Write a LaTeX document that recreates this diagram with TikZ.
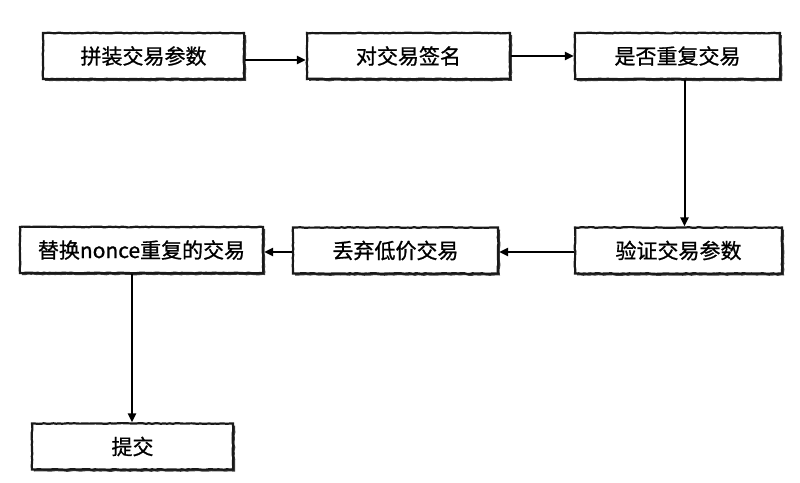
\documentclass[tikz,border=0pt]{standalone}
\usepackage{fontspec}
\setmainfont{Noto Sans CJK SC}
\newfontfamily\boxfont{Noto Sans CJK SC}[FakeBold=0.9]
\usetikzlibrary{arrows.meta,decorations.pathmorphing,shadows}
\tikzset{
  box/.style={draw=black!90, line width=2.2pt, fill=white, minimum height=46pt,
    inner sep=0pt, font=\boxfont\fontsize{21}{24}\selectfont,
    decorate, decoration={random steps, segment length=3pt, amplitude=0.4pt},
    drop shadow={shadow xshift=2pt, shadow yshift=-2pt, fill=black!85, opacity=0.9}},
  conn/.style={line width=2pt, -{Triangle[length=9pt,width=8pt]}}
}
\begin{document}
\begin{tikzpicture}[x=1pt,y=-1pt]
\useasboundingbox (0,0) rectangle (800,482);
\node[box, minimum width=201pt] (A) at (143.5,56) {拼装交易参数};
\node[box, minimum width=203pt] (B) at (408.5,56) {对交易签名};
\node[box, minimum width=205pt] (C) at (677.5,56) {是否重复交易};
\node[box, minimum width=207pt] (D) at (678.5,250.5) {验证交易参数};
\node[box, minimum width=205pt] (E) at (395.5,250.5) {丢弃低价交易};
\node[box, minimum width=243pt] (F) at (141.5,250) {替换nonce重复的交易};
\node[box, minimum width=201pt] (G) at (132.5,446.5) {提交};
\draw[conn] ([yshift=-4pt]A.east) -- ([yshift=-4pt]A.east -| B.west);
\draw[conn] (B.east) -- (B.east -| C.west);
\draw[conn] ([xshift=7pt]C.south) -- ([xshift=7pt]C.south |- D.north);
\draw[conn] ([yshift=-1.5pt]D.west) -- ([yshift=-1.5pt]D.west -| E.east);
\draw[conn] ([yshift=-1.5pt]E.west) -- ([yshift=-1.5pt]E.west -| F.east);
\draw[conn] ([xshift=-9.5pt]F.south) -- ([xshift=-9.5pt]F.south |- G.north);
\end{tikzpicture}
\end{document}
